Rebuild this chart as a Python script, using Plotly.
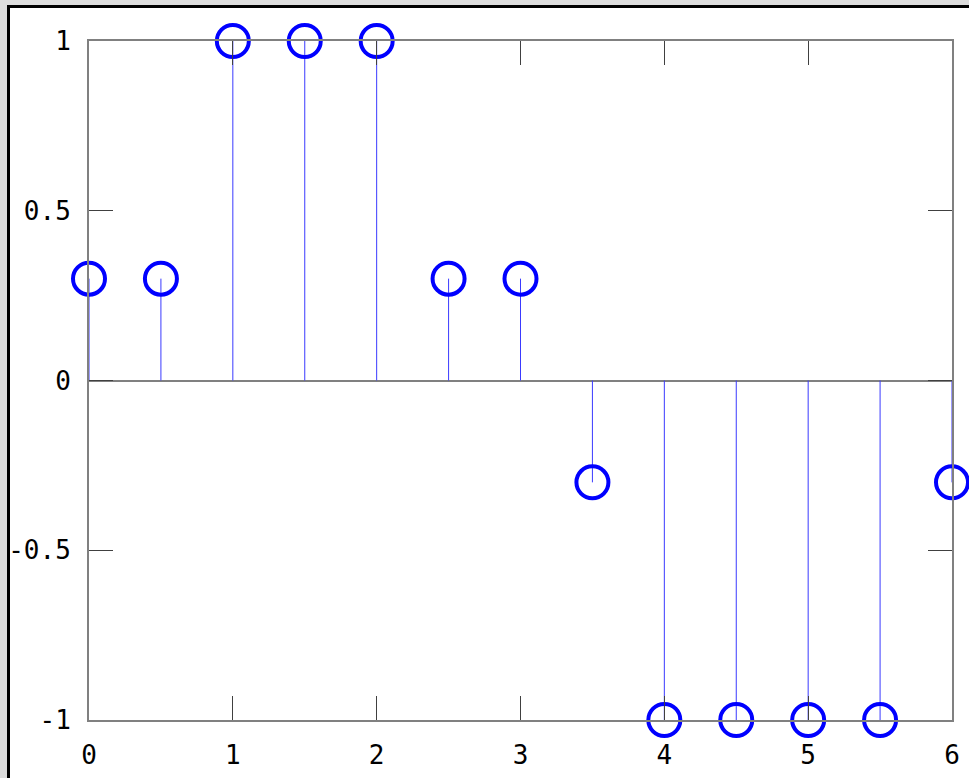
import plotly.graph_objects as go

x_vals = [0, 0.5, 1, 1.5, 2, 2.5, 3, 3.5, 4, 4.5, 5, 5.5, 6]
y_vals = [0.3, 0.3, 1, 1, 1, 0.3, 0.3, -0.3, -1, -1, -1, -1, -0.3]
x_ticks = [0, 1, 2, 3, 4, 5, 6]
y_ticks = [-1, -0.5, 0, 0.5, 1]
y_tick_text = ["-1", "-0.5", "0", "0.5", "1"]

W, H = 969, 778
L, R, T, B = 89, 952, 41, 720
pw, ph = R - L, B - T

stem_x, stem_y = [], []
for xv, yv in zip(x_vals, y_vals):
    stem_x += [xv, xv, None]
    stem_y += [0, yv, None]

fig = go.Figure()
fig.add_trace(go.Scatter(x=stem_x, y=stem_y, mode="lines",
                         line=dict(color="#3a3aff", width=1),
                         hoverinfo="skip", showlegend=False, cliponaxis=False))
fig.add_trace(go.Scatter(x=x_vals, y=y_vals, mode="markers",
                         marker=dict(symbol="circle-open", size=32, color="#0000ff",
                                     line=dict(color="#0000ff", width=4)),
                         showlegend=False, cliponaxis=False))

def px_to_paper_x(p):
    return (p - L) / pw

def px_to_paper_y(p):
    return (B - p) / ph

# outer white page with black frame on gray background
fig.add_shape(type="rect", xref="paper", yref="paper",
              x0=px_to_paper_x(8.5), x1=px_to_paper_x(1100),
              y0=px_to_paper_y(900), y1=px_to_paper_y(6.5),
              line=dict(color="black", width=3), fillcolor="white", layer="below")

axis_common = dict(showline=True, linecolor="#808080", linewidth=2, mirror="ticks",
                   ticks="inside", ticklen=24, tickwidth=1, tickcolor="#404040",
                   showgrid=False, automargin=False,
                   tickfont=dict(family="DejaVu Sans Mono", size=26, color="black"))

fig.update_xaxes(range=[0, 6], tickvals=x_ticks, ticktext=[str(t) for t in x_ticks],
                 zeroline=False, ticklabelstandoff=11, **axis_common)
fig.update_yaxes(range=[-1, 1], tickvals=y_ticks, ticktext=y_tick_text,
                 zeroline=True, zerolinecolor="#808080", zerolinewidth=2,
                 ticklabelstandoff=11, **axis_common)

fig.update_layout(width=W, height=H,
                  margin=dict(l=L, r=W - R, t=T, b=H - B, pad=0),
                  paper_bgcolor="#dcdcdc", plot_bgcolor="rgba(0,0,0,0)")

fig.write_html("out.html", config={"displayModeBar": False},
               post_script="document.body.style.margin='0';document.body.style.overflow='hidden';")
